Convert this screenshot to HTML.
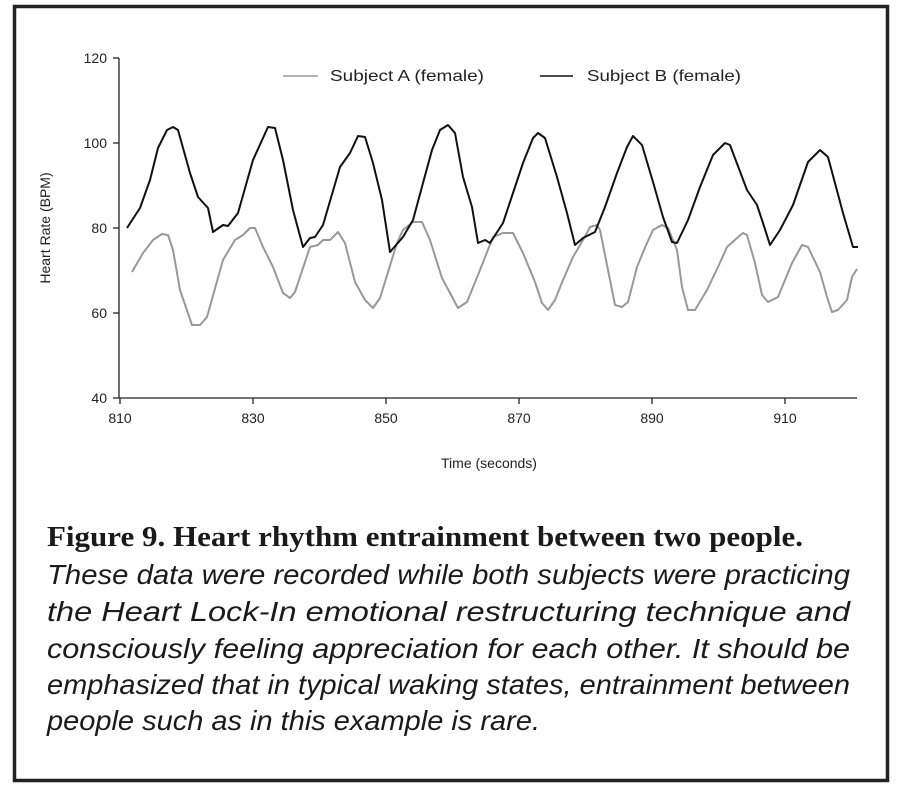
<!DOCTYPE html>
<html><head><meta charset="utf-8"><style>
html,body{margin:0;padding:0;background:#fff;width:912px;height:799px;overflow:hidden}
svg{display:block}
</style></head><body>
<svg width="912" height="799" xmlns="http://www.w3.org/2000/svg">
<rect x="0" y="0" width="912" height="799" fill="#fff"/>
<rect x="14.5" y="6.5" width="873" height="774" fill="none" stroke="#222" stroke-width="3.5"/>
<g stroke="#222" stroke-width="1.3" fill="none">
<line x1="119" y1="58" x2="119" y2="398"/>
<line x1="119" y1="398" x2="857" y2="398"/>
<line x1="113" y1="58" x2="119" y2="58"/>
<line x1="113" y1="143" x2="119" y2="143"/>
<line x1="113" y1="228" x2="119" y2="228"/>
<line x1="113" y1="313" x2="119" y2="313"/>
<line x1="113" y1="398" x2="119" y2="398"/>
<line x1="120" y1="398" x2="120" y2="404"/>
<line x1="253" y1="398" x2="253" y2="404"/>
<line x1="386" y1="398" x2="386" y2="404"/>
<line x1="519" y1="398" x2="519" y2="404"/>
<line x1="652" y1="398" x2="652" y2="404"/>
<line x1="785" y1="398" x2="785" y2="404"/>
</g>
<g font-family="Liberation Sans, sans-serif" font-size="14" fill="#222" text-anchor="end">
<text x="107" y="63">120</text><text x="107" y="148">100</text><text x="107" y="233">80</text><text x="107" y="318">60</text><text x="107" y="403">40</text>
</g>
<g font-family="Liberation Sans, sans-serif" font-size="14" fill="#222" text-anchor="middle">
<text x="120" y="423">810</text><text x="253" y="423">830</text><text x="386" y="423">850</text><text x="519" y="423">870</text><text x="652" y="423">890</text><text x="785" y="423">910</text>
<text x="489" y="468">Time (seconds)</text>
<text transform="translate(50,228) rotate(-90)">Heart Rate (BPM)</text>
</g>
<line x1="283" y1="76" x2="318" y2="76" stroke="#999" stroke-width="1.6"/>
<line x1="540" y1="76" x2="573" y2="76" stroke="#111" stroke-width="1.6"/>
<g font-family="Liberation Sans, sans-serif" font-size="16" fill="#222">
<text x="330" y="81" textLength="154" lengthAdjust="spacingAndGlyphs">Subject A (female)</text>
<text x="587" y="81" textLength="154" lengthAdjust="spacingAndGlyphs">Subject B (female)</text>
</g>
<polyline fill="none" stroke="#999" stroke-width="2" stroke-linejoin="round" points="132,272 143,253 153,240 162,234 168,235 173,250 180,290 192,325 200,325 207,317 223,260 235,240 243,235 250,228 255,228 263,247 273,267 283,293 290,298 295,292 310,247 318,245 323,240 330,240 338,232 345,243 355,282 365,300 373,308 380,298 397,243 403,230 413,222 422,222 430,240 442,278 450,293 458,308 467,302 480,270 493,237 503,233 513,233 523,253 535,282 542,303 548,310 555,300 563,280 573,257 583,240 590,227 597,225 600,230 608,270 615,305 622,307 628,302 637,267 647,243 653,230 662,225 668,228 677,250 682,287 688,310 695,310 707,290 718,267 727,247 737,238 743,233 747,235 755,263 762,295 768,302 778,297 792,263 802,245 808,247 820,272 827,297 832,312 838,310 847,300 852,277 857,269"/>
<polyline fill="none" stroke="#111" stroke-width="2" stroke-linejoin="round" points="127,228 140,208 150,180 158,148 167,130 173,127 178,130 190,173 198,197 208,208 213,232 223,225 228,226 238,213 253,160 268,127 275,128 283,160 293,210 303,247 310,238 315,237 323,225 340,167 350,153 358,136 365,137 373,163 382,200 390,252 403,237 413,220 423,183 432,150 440,130 448,125 455,133 463,177 472,207 478,243 485,240 490,243 503,223 513,193 523,163 533,138 538,133 545,138 557,177 567,213 575,245 583,238 595,232 605,207 617,173 627,147 633,136 642,145 653,182 663,217 672,242 677,243 688,220 700,187 713,155 725,143 730,145 747,190 757,205 763,223 770,245 780,230 793,205 808,162 820,150 828,157 843,213 853,247 858,247"/>
<text x="47" y="546" font-family="Liberation Serif, serif" font-weight="bold" font-size="28" fill="#1a1a1a" textLength="756" lengthAdjust="spacingAndGlyphs">Figure 9. Heart rhythm entrainment between two people.</text>
<g font-family="Liberation Sans Narrow, Liberation Sans, sans-serif" font-style="italic" font-size="28" fill="#1a1a1a">
<text x="47" y="584" textLength="803" lengthAdjust="spacingAndGlyphs">These data were recorded while both subjects were practicing</text>
<text x="47" y="621" textLength="803" lengthAdjust="spacingAndGlyphs">the Heart Lock-In emotional restructuring technique and</text>
<text x="47" y="658" textLength="803" lengthAdjust="spacingAndGlyphs">consciously feeling appreciation for each other. It should be</text>
<text x="47" y="694" textLength="803" lengthAdjust="spacingAndGlyphs">emphasized that in typical waking states, entrainment between</text>
<text x="47" y="730" textLength="493" lengthAdjust="spacingAndGlyphs">people such as in this example is rare.</text>
</g>
</svg>
</body></html>
